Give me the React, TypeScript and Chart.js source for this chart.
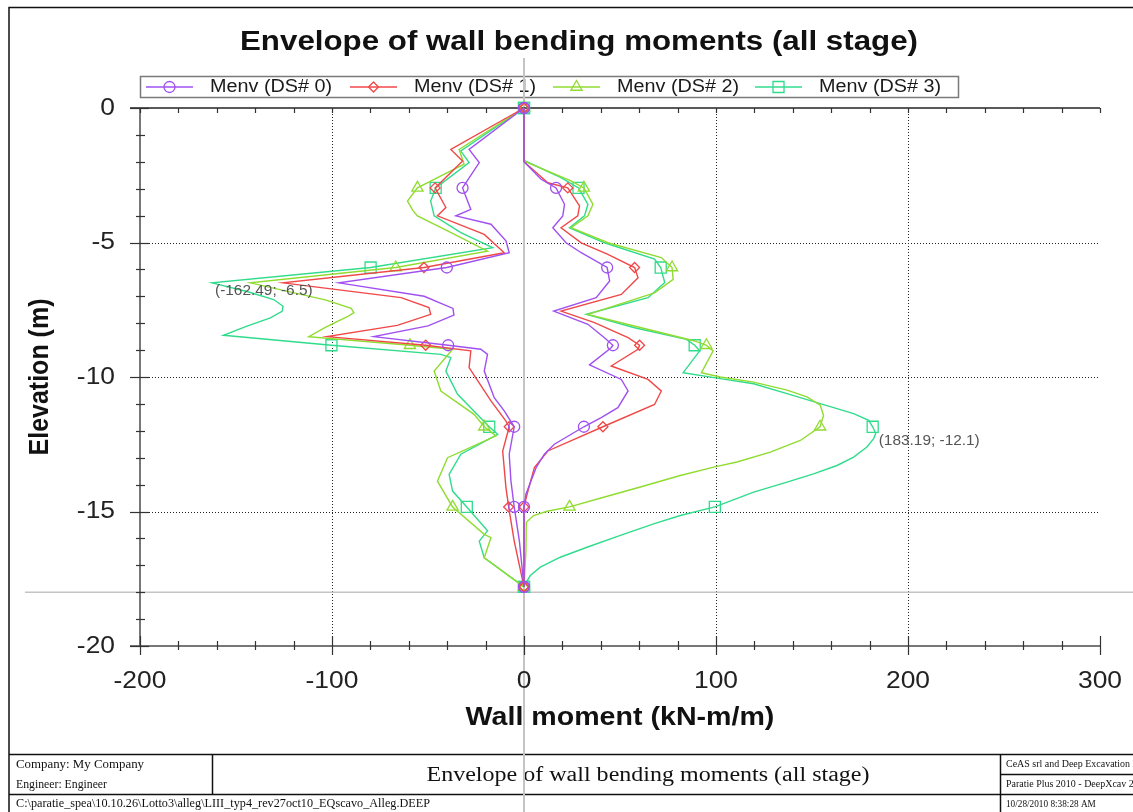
import React, { useEffect, useRef } from "react";
import { Chart, registerables } from "chart.js";

Chart.register(...registerables);

const W = 1133;
const H = 812;

// ---------------- data ----------------
const SERIES_LABELS = ["Menv (DS# 0)", "Menv (DS# 1)", "Menv (DS# 2)", "Menv (DS# 3)"];
const X_TICKS = [-200, -100, 0, 100, 200, 300];
const Y_TICKS = [0, -5, -10, -15, -20];
const MARKER_Z = [0, -2.97, -5.93, -8.82, -11.85, -14.83, -17.8];
const WALL_BASE_Z = -18;
const ANNOTATIONS: [number, number][] = [[-162.49, -6.5], [183.19, -12.1]];

// [moment kN-m/m, elevation m], top -> bottom
const DS0_MIN: [number, number][] = [
  [0, 0], [-28.6, -1.54], [-23.3, -2.03], [-32, -2.97], [-27.7, -3.77], [-35.5, -4.01],
  [-17.2, -4.32], [-9.4, -4.94], [-7.7, -5.38], [-40.2, -5.93], [-96.4, -6.5], [-52, -7.0],
  [-37, -7.45], [-36.5, -7.7], [-50, -8.1], [-78.2, -8.5], [-39.5, -8.82], [-22.5, -8.97],
  [-19, -9.16], [-20.7, -9.78], [-15.5, -10.77], [-10.3, -11.26], [-5.1, -11.85],
  [-7.7, -12.87], [-6.8, -13.87], [-5.1, -14.83], [-2.4, -16.1], [0, -17.8],
];
const DS0_MAX: [number, number][] = [
  [0, 0], [0, -2.0], [8.9, -2.65], [16.7, -2.97], [21.1, -3.58], [20.2, -4.01], [15, -4.45],
  [21.9, -5.01], [29.8, -5.38], [43.3, -5.93], [44.6, -6.43], [37.6, -7.05], [15.5, -7.55],
  [33.3, -8.04], [41.9, -8.54], [46.3, -8.82], [45.4, -8.91], [34.1, -9.55], [50.7, -10.09],
  [54.2, -10.52], [48.9, -11.14], [40.2, -11.51], [31.2, -11.85], [15.8, -12.5], [10.6, -12.87],
  [6.3, -13.37], [1, -14.36], [0, -14.83], [0, -17.8],
];
const DS1_MIN: [number, number][] = [
  [0, 0], [-38.1, -1.54], [-32, -1.97], [-46.3, -2.97], [-40.7, -3.7], [-45.1, -4.01],
  [-20.7, -4.7], [-10.3, -5.38], [-52.1, -5.93], [-125.5, -6.5], [-64, -7.05], [-49.5, -7.42],
  [-48.6, -7.67], [-66, -8.08], [-102.5, -8.5], [-51.2, -8.82], [-27.7, -9.03], [-28.6, -9.65],
  [-17.2, -10.89], [-9.4, -11.64], [-7.7, -11.85], [-11.1, -12.75], [-9.4, -14.11],
  [-8, -14.83], [-5.1, -16.1], [0, -17.8],
];
const DS1_MAX: [number, number][] = [
  [0, 0], [0, -2.0], [12.4, -2.78], [22.8, -2.97], [28.9, -3.64], [28, -4.01], [19.3, -4.45],
  [29.8, -5.01], [43.7, -5.44], [57.6, -5.93], [59.4, -6.31], [50.7, -6.93], [19.3, -7.55],
  [36.7, -7.98], [54.2, -8.54], [60.2, -8.82], [59.4, -8.97], [45.4, -9.59], [64.6, -10.09],
  [71.5, -10.52], [68, -11.02], [41.1, -11.85], [12.4, -12.75], [5.4, -13.37], [1.6, -14.36],
  [0, -14.83], [0, -17.8],
];
const DS2_MIN: [number, number][] = [
  [0, 0], [-33.8, -1.54], [-31.2, -2.09], [-55.5, -2.97], [-60.7, -3.46], [-58, -3.8],
  [-55.5, -4.01], [-39.8, -4.57], [-19, -5.32], [-66.8, -5.93], [-142.6, -6.5], [-103, -7.14],
  [-90, -7.45], [-88.6, -7.61], [-92, -7.76], [-103, -8.14], [-112.1, -8.5], [-59.4, -8.82],
  [-37.2, -8.97], [-46.8, -9.78], [-43.3, -10.52], [-26, -11.39], [-20.7, -11.85],
  [-14.6, -12.19], [-39.8, -13], [-45.1, -13.87], [-37.2, -14.83], [-20.7, -15.85],
  [-17.2, -15.97], [-20.7, -16.72], [0, -17.8],
];
const DS2_MAX: [number, number][] = [
  [0, 0], [0, -1.95], [1.9, -2.03], [24.5, -2.71], [31.2, -2.97], [35.9, -3.58], [33.3, -4.01],
  [24.5, -4.45], [43.7, -5.01], [71.5, -5.56], [77.1, -5.93], [77.7, -6.37], [68, -6.87],
  [33.3, -7.67], [61.1, -8.17], [88.9, -8.66], [95, -8.82], [98.5, -9.03], [92.4, -9.84],
  [102.2, -10.0], [119.6, -10.19], [137, -10.49], [147.4, -10.74], [154.3, -11.05],
  [156, -11.43], [154.2, -11.85], [143.9, -12.36], [128.3, -12.79], [110.9, -13.16],
  [98.8, -13.35], [81.4, -13.66], [60.6, -14.09], [41.5, -14.47], [23.7, -14.83], [12, -14.99],
  [5, -15.15], [1.2, -15.4], [1, -16.47], [0, -17.8],
];
const DS3_MIN: [number, number][] = [
  [0, 0], [-32.9, -1.6], [-28.6, -2.03], [-46, -2.97], [-48.6, -3.46], [-46.8, -4.01],
  [-32.9, -4.63], [-16.3, -5.19], [-79.9, -5.93], [-162.49, -6.5], [-144.3, -6.82],
  [-130.4, -7.12], [-125.5, -7.37], [-126, -7.56], [-132.1, -7.8], [-144.3, -8.11],
  [-156.5, -8.45], [-100.3, -8.82], [-43.3, -9.16], [-38.1, -9.28], [-40.7, -9.78],
  [-34.6, -10.64], [-18.1, -11.85], [-13.7, -12.13], [-32.9, -12.87], [-39, -13.62],
  [-37.2, -14.24], [-29.8, -14.83], [-19, -15.72], [-23.3, -16.1], [-20.7, -16.72], [0, -17.8],
];
const DS3_MAX: [number, number][] = [
  [0, 0], [0, -1.95], [19.3, -2.59], [28.4, -2.97], [33.3, -3.58], [31.5, -4.01], [23.7, -4.45],
  [41.9, -5.01], [68, -5.62], [71.2, -5.93], [73.3, -6.49], [64.6, -7.05], [32.4, -7.67],
  [57.6, -8.17], [84.6, -8.6], [88.9, -8.82], [91.5, -9.03], [82.9, -9.84], [102.2, -10.06],
  [119.6, -10.25], [137, -10.62], [154.3, -10.99], [171.7, -11.36], [179.5, -11.61],
  [181.6, -11.85], [183.19, -12.1], [182.1, -12.29], [178.6, -12.6], [171.7, -12.98],
  [163, -13.29], [150.8, -13.6], [137, -13.91], [119.6, -14.28], [99.4, -14.83], [81.4, -15.15],
  [67.5, -15.46], [50.2, -15.89], [32.8, -16.33], [18.9, -16.7], [8.5, -17.07], [3.3, -17.38],
  [0.7, -17.69], [0, -17.8],
];

const SERIES_BRANCHES = [
  [DS0_MIN, DS0_MAX],
  [DS1_MIN, DS1_MAX],
  [DS2_MIN, DS2_MAX],
  [DS3_MIN, DS3_MAX],
];

// ---------------- styles ----------------
const COLORS = ["#a050f0", "#f04848", "#90dc30", "#30dc8c"];
const MARKERS = ["circle", "rectRot", "triangle", "rect"];
const MARKER_R = [5.5, 5, 6.5, 7.8];
const SANS = '"Liberation Sans", Arial, sans-serif';
const SERIF = '"Liberation Serif", "Times New Roman", serif';
const SX = 1.1;

const isMarker = (z: number) => MARKER_Z.some((m) => Math.abs(m - z) < 1e-6);

function drawText(
  ctx: CanvasRenderingContext2D, s: string, x: number, y: number, font: string,
  align: CanvasTextAlign, sx: number, color: string, rot = 0,
) {
  ctx.save();
  ctx.font = font;
  ctx.fillStyle = color;
  ctx.textAlign = align;
  ctx.textBaseline = "middle";
  ctx.translate(x, y);
  ctx.scale(sx, 1);
  if (rot) ctx.rotate(rot);
  ctx.fillText(s, 0, 0);
  ctx.restore();
}

function fitText(
  ctx: CanvasRenderingContext2D, s: string, x: number, y: number, font: string,
  width: number, align: CanvasTextAlign, color: string,
) {
  ctx.save();
  ctx.font = font;
  const w = ctx.measureText(s).width;
  ctx.restore();
  drawText(ctx, s, x, y, font, align, width / w, color);
}

function line(ctx: CanvasRenderingContext2D, x1: number, y1: number, x2: number, y2: number) {
  ctx.beginPath();
  ctx.moveTo(x1, y1);
  ctx.lineTo(x2, y2);
  ctx.stroke();
}

function marker(ctx: CanvasRenderingContext2D, style: string, x: number, y: number, r: number) {
  ctx.beginPath();
  if (style === "circle") {
    ctx.arc(x, y, r, 0, Math.PI * 2);
  } else if (style === "rectRot") {
    ctx.moveTo(x - r, y); ctx.lineTo(x, y - r); ctx.lineTo(x + r, y); ctx.lineTo(x, y + r); ctx.closePath();
  } else if (style === "triangle") {
    for (let k = 0; k < 3; k++) {
      const a = (k * 2 * Math.PI) / 3;
      const px = x + Math.sin(a) * r, py = y - Math.cos(a) * r;
      if (k === 0) ctx.moveTo(px, py); else ctx.lineTo(px, py);
    }
    ctx.closePath();
  } else {
    const h = r * Math.SQRT1_2;
    ctx.rect(x - h, y - h, 2 * h, 2 * h);
  }
  ctx.stroke();
}

const decor = {
  id: "decor",
  beforeDraw(chart: any) {
    const ctx: CanvasRenderingContext2D = chart.ctx;
    ctx.save();
    ctx.fillStyle = "#fff";
    ctx.fillRect(0, 0, W, H);

    // outer frame + footer table
    ctx.strokeStyle = "#111";
    ctx.lineWidth = 1.5;
    ctx.beginPath();
    ctx.moveTo(9, H); ctx.lineTo(9, 7.5); ctx.lineTo(W, 7.5);
    ctx.stroke();
    line(ctx, 9, 754.5, W, 754.5);
    line(ctx, 9, 794.5, W, 794.5);
    line(ctx, 212.5, 754.5, 212.5, 794.5);
    line(ctx, 1000.5, 754.5, 1000.5, H);
    line(ctx, 1000.5, 774.5, W, 774.5);

    const fs = "11.5px " + SERIF;
    fitText(ctx, "Company: My Company", 16, 765, fs, 128, "left", "#111");
    fitText(ctx, "Engineer: Engineer", 16, 785, fs, 91, "left", "#111");
    fitText(ctx, "C:\\paratie_spea\\10.10.26\\Lotto3\\alleg\\LIII_typ4_rev27oct10_EQscavo_Alleg.DEEP", 16, 804, fs, 414, "left", "#111");
    fitText(ctx, "Envelope of wall bending moments (all stage)", 648, 776, "20px " + SERIF, 443, "center", "#111");
    const fr = "10.5px " + SERIF;
    drawText(ctx, "CeAS srl and Deep Excavation LLC", 1006, 764, fr, "left", 0.95, "#111");
    drawText(ctx, "Paratie Plus 2010 - DeepXcav 2010", 1006, 784, fr, "left", 0.95, "#111");
    drawText(ctx, "10/28/2010 8:38:28 AM", 1006, 804, fr, "left", 0.88, "#111");

    // title
    fitText(ctx, "Envelope of wall bending moments (all stage)", 579, 42, "bold 28.5px " + SANS, 678, "center", "#111");

    // legend
    ctx.strokeStyle = "#7a7a7a";
    ctx.lineWidth = 1.5;
    ctx.strokeRect(140.5, 76.5, 818, 21);
    const LX = [146, 350, 553, 755];
    for (let i = 0; i < 4; i++) {
      ctx.strokeStyle = COLORS[i];
      ctx.lineWidth = 1.4;
      line(ctx, LX[i], 87, LX[i] + 47, 87);
      ctx.lineWidth = 1.3;
      marker(ctx, MARKERS[i], LX[i] + 23.5, 87, MARKER_R[i]);
      drawText(ctx, SERIES_LABELS[i], LX[i] + 64, 87.5, "18px " + SANS, "left", SX, "#1a1a1a");
    }
    ctx.restore();
  },
  beforeDatasetsDraw(chart: any) {
    const ctx: CanvasRenderingContext2D = chart.ctx;
    const xs = chart.scales.x;
    const ys = chart.scales.y;
    const a = chart.chartArea;
    ctx.save();

    // dotted grid
    ctx.strokeStyle = "#222";
    ctx.lineWidth = 1;
    ctx.setLineDash([1, 2]);
    X_TICKS.forEach((v) => {
      if (v === X_TICKS[0] || v === 0 || v === X_TICKS[X_TICKS.length - 1]) return;
      const px = Math.round(xs.getPixelForValue(v)) + 0.5;
      line(ctx, px, a.top, px, a.bottom);
    });
    Y_TICKS.forEach((v) => {
      if (v === Y_TICKS[0] || v === Y_TICKS[Y_TICKS.length - 1]) return;
      const py = Math.round(ys.getPixelForValue(v)) + 0.5;
      line(ctx, a.left, py, a.right, py);
    });
    ctx.setLineDash([]);

    // wall lines
    ctx.strokeStyle = "#c4c4c4";
    ctx.lineWidth = 2;
    const x0 = xs.getPixelForValue(0);
    line(ctx, x0, 58, x0, H);
    ctx.lineWidth = 1.5;
    const yb = ys.getPixelForValue(WALL_BASE_Z);
    line(ctx, 25, yb, W, yb);

    // axes
    ctx.strokeStyle = "#4a4a4a";
    ctx.lineWidth = 1.5;
    line(ctx, a.left, a.top, a.left, a.bottom);
    line(ctx, 130, a.bottom, a.right, a.bottom);
    ctx.strokeStyle = "#222";
    line(ctx, 130, a.top, a.right, a.top);

    // x ticks (every 20)
    ctx.strokeStyle = "#333";
    ctx.lineWidth = 1.2;
    for (let v = X_TICKS[0]; v <= X_TICKS[X_TICKS.length - 1]; v += 20) {
      const px = Math.round(xs.getPixelForValue(v)) + 0.5;
      const major = v % 100 === 0;
      line(ctx, px, a.bottom - (major ? 10 : 5), px, a.bottom + (major ? 9 : 4));
      line(ctx, px, a.top, px, a.top + 5);
    }
    // y ticks (every 1)
    for (let v = Y_TICKS[0]; v >= Y_TICKS[Y_TICKS.length - 1]; v -= 1) {
      const py = Math.round(ys.getPixelForValue(v)) + 0.5;
      const major = v % 5 === 0;
      line(ctx, a.left - (major ? 10 : 4), py, a.left + (major ? 9 : 5), py);
    }

    // tick labels
    const tf = "24px " + SANS;
    X_TICKS.forEach((v) => drawText(ctx, String(v), xs.getPixelForValue(v), a.bottom + 35, tf, "center", SX, "#222"));
    Y_TICKS.forEach((v) => drawText(ctx, String(v), 115, ys.getPixelForValue(v), tf, "right", SX, "#222"));

    // axis titles
    drawText(ctx, "Wall moment (kN-m/m)", (a.left + a.right) / 2, 718, "bold 26px " + SANS, "center", SX, "#111");
    drawText(ctx, "Elevation (m)", 40, (a.top + a.bottom) / 2, "bold 25px " + SANS, "center", SX, "#111", -Math.PI / 2);
    ctx.restore();
  },
  afterDatasetsDraw(chart: any) {
    const ctx: CanvasRenderingContext2D = chart.ctx;
    const xs = chart.scales.x;
    const ys = chart.scales.y;
    ANNOTATIONS.forEach(([m, z]) => {
      const s = "(" + m + "; " + z + ")";
      drawText(ctx, s, xs.getPixelForValue(m) + 3, ys.getPixelForValue(z) + 8, "14px " + SANS, "left", SX, "#555");
    });
  },
};

export default function App() {
  const ref = useRef<HTMLCanvasElement>(null);
  useEffect(() => {
    const canvas = ref.current;
    if (!canvas) return;
    const datasets: any[] = [];
    SERIES_BRANCHES.forEach((branches, i) => {
      branches.forEach((br, j) => {
        datasets.push({
          label: SERIES_LABELS[i] + (j === 0 ? " min" : " max"),
          data: br.map(([m, z]) => ({ x: m, y: z })),
          showLine: true,
          borderColor: COLORS[i],
          borderWidth: 1.4,
          tension: 0,
          pointStyle: MARKERS[i],
          pointRadius: (c: any) => (c.raw && isMarker(c.raw.y) ? MARKER_R[i] : 0),
          pointHoverRadius: (c: any) => (c.raw && isMarker(c.raw.y) ? MARKER_R[i] : 0),
          pointBorderColor: COLORS[i],
          pointBackgroundColor: "rgba(255,255,255,0)",
          pointBorderWidth: 1.3,
          clip: false,
        });
      });
    });
    const chart = new Chart(canvas, {
      type: "scatter",
      data: { datasets },
      options: {
        animation: false,
        responsive: false,
        devicePixelRatio: 1,
        events: [],
        layout: { autoPadding: false, padding: { left: 140, right: 33, top: 108, bottom: 166 } },
        plugins: { legend: { display: false }, title: { display: false }, tooltip: { enabled: false } },
        scales: {
          x: { type: "linear", min: X_TICKS[0], max: X_TICKS[X_TICKS.length - 1], display: false },
          y: { type: "linear", min: Y_TICKS[Y_TICKS.length - 1], max: Y_TICKS[0], display: false },
        },
      } as any,
      plugins: [decor as any],
    });
    return () => chart.destroy();
  }, []);
  return (
    <div style={{ position: "fixed", left: 0, top: 0, width: W, height: H, background: "#fff" }}>
      <canvas ref={ref} width={W} height={H} style={{ display: "block", width: W, height: H }} />
    </div>
  );
}
